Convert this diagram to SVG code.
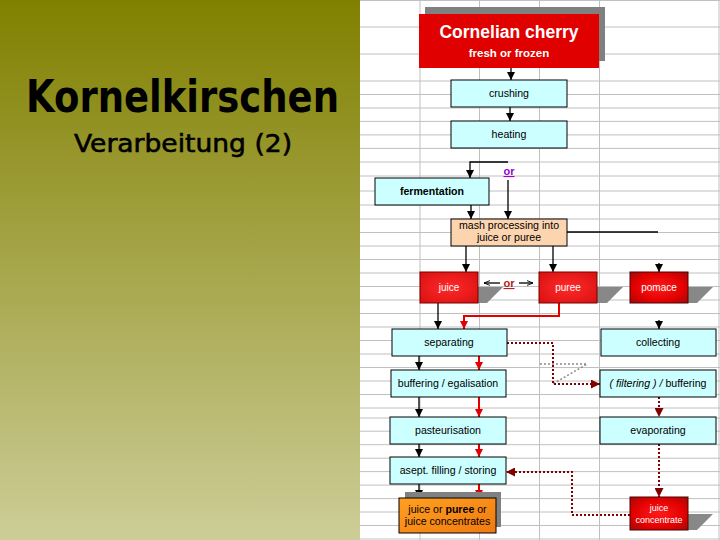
<svg xmlns="http://www.w3.org/2000/svg" width="720" height="540" viewBox="0 0 720 540">
<defs>
<linearGradient id="leftbg" x1="0" y1="0" x2="0" y2="1">
<stop offset="0" stop-color="#808000"/>
<stop offset="1" stop-color="#cdcd98"/>
</linearGradient>
<radialGradient id="redbox" cx="0.5" cy="0.5" r="0.7">
<stop offset="0" stop-color="#ff2a2a"/>
<stop offset="1" stop-color="#d81010"/>
</radialGradient>
<radialGradient id="darkred" cx="0.5" cy="0.5" r="0.75">
<stop offset="0" stop-color="#ff1a1a"/>
<stop offset="0.6" stop-color="#e00000"/>
<stop offset="1" stop-color="#8a1010"/>
</radialGradient>
<linearGradient id="orange" x1="0" y1="0" x2="1" y2="1">
<stop offset="0" stop-color="#ffa020"/>
<stop offset="1" stop-color="#f07a10"/>
</linearGradient>
<marker id="ab" viewBox="0 0 10 10" refX="10" refY="5" markerWidth="8" markerHeight="8" markerUnits="userSpaceOnUse" orient="auto"><path d="M0,0 L10,5 L0,10 z" fill="#000"/></marker>
<marker id="ar" viewBox="0 0 10 10" refX="10" refY="5" markerWidth="8" markerHeight="8" markerUnits="userSpaceOnUse" orient="auto"><path d="M0,0 L10,5 L0,10 z" fill="#e00000"/></marker>
<marker id="ad" viewBox="0 0 10 10" refX="10" refY="5" markerWidth="9" markerHeight="9" markerUnits="userSpaceOnUse" orient="auto"><path d="M0,0 L10,5 L0,10 z" fill="#800000"/></marker>
<marker id="as" viewBox="0 0 10 10" refX="10" refY="5" markerWidth="6" markerHeight="6" markerUnits="userSpaceOnUse" orient="auto"><path d="M0,1 L10,5 L0,9" fill="none" stroke="#000" stroke-width="1.5"/></marker>
<style>
.grid line{stroke:#c0c0c0;stroke-width:1}
.cy{fill:#ccffff;stroke:#000;stroke-width:1}
.lbl{font-family:"Liberation Sans",Arial,sans-serif;font-size:10.6px;fill:#000;text-anchor:middle}
.wl{font-family:"Liberation Sans",Arial,sans-serif;fill:#fff;text-anchor:middle}
.sh{fill:#888}
.c{fill:none;stroke:#000;stroke-width:1.3}
.cr{fill:none;stroke:#e00000;stroke-width:2}
.cd{fill:none;stroke:#800000;stroke-width:2;stroke-dasharray:2 2}
.cg{fill:none;stroke:#8a8a8a;stroke-width:1.5;stroke-dasharray:2 2}
</style>
</defs>

<rect x="0" y="0" width="360" height="540" fill="url(#leftbg)"/>
<rect x="360" y="0" width="360" height="540" fill="#fff"/>

<g class="grid">
<line x1="360" y1="0.5" x2="720" y2="0.5"/>
<line x1="360" y1="27" x2="720" y2="27"/>
<line x1="360" y1="54" x2="720" y2="54"/>
<line x1="360" y1="81" x2="720" y2="81"/>
<line x1="360" y1="94.5" x2="720" y2="94.5"/>
<line x1="360" y1="108" x2="720" y2="108"/>
<line x1="360" y1="121.4" x2="720" y2="121.4"/>
<line x1="360" y1="134.9" x2="720" y2="134.9"/>
<line x1="360" y1="148.4" x2="720" y2="148.4"/>
<line x1="360" y1="162" x2="720" y2="162"/>
<line x1="360" y1="176" x2="720" y2="176"/>
<line x1="360" y1="191" x2="720" y2="191"/>
<line x1="360" y1="205" x2="720" y2="205"/>
<line x1="360" y1="219" x2="720" y2="219"/>
<line x1="360" y1="232.5" x2="720" y2="232.5"/>
<line x1="360" y1="246" x2="720" y2="246"/>
<line x1="360" y1="259.5" x2="720" y2="259.5"/>
<line x1="360" y1="273" x2="720" y2="273"/>
<line x1="360" y1="286.5" x2="720" y2="286.5"/>
<line x1="360" y1="300" x2="720" y2="300"/>
<line x1="360" y1="313.5" x2="720" y2="313.5"/>
<line x1="360" y1="327" x2="720" y2="327"/>
<line x1="360" y1="340.5" x2="720" y2="340.5"/>
<line x1="360" y1="354" x2="720" y2="354"/>
<line x1="360" y1="367.5" x2="720" y2="367.5"/>
<line x1="360" y1="381" x2="720" y2="381"/>
<line x1="360" y1="394.5" x2="720" y2="394.5"/>
<line x1="360" y1="408" x2="720" y2="408"/>
<line x1="360" y1="418" x2="720" y2="418"/>
<line x1="360" y1="431.2" x2="720" y2="431.2"/>
<line x1="360" y1="444.7" x2="720" y2="444.7"/>
<line x1="360" y1="458.2" x2="720" y2="458.2"/>
<line x1="360" y1="471.6" x2="720" y2="471.6"/>
<line x1="360" y1="485.1" x2="720" y2="485.1"/>
<line x1="360" y1="498.6" x2="720" y2="498.6"/>
<line x1="360" y1="512" x2="720" y2="512"/>
<line x1="360" y1="525.5" x2="720" y2="525.5"/>
<line x1="360" y1="539" x2="720" y2="539"/>
<line x1="420" y1="0" x2="420" y2="540"/>
<line x1="479.5" y1="0" x2="479.5" y2="540"/>
<line x1="539.5" y1="0" x2="539.5" y2="540"/>
<line x1="599.5" y1="0" x2="599.5" y2="540"/>
<line x1="719" y1="0" x2="719" y2="540"/>
</g>

<g id="title-left">
<text x="26" y="112" font-family="'DejaVu Sans',sans-serif" font-weight="bold" font-size="44" textLength="313" lengthAdjust="spacingAndGlyphs" fill="#000">Kornelkirschen</text>
<text x="74" y="152" font-family="'DejaVu Sans',sans-serif" font-size="25" textLength="218" lengthAdjust="spacingAndGlyphs" fill="#000" stroke="#000" stroke-width="0.6">Verarbeitung (2)</text>
</g>

<g id="connectors">
<path class="c" d="M511,68 V80" marker-end="url(#ab)"/>
<path class="c" d="M510,107 V121" marker-end="url(#ab)"/>
<path class="c" d="M508,162 H470 V178" marker-end="url(#ab)"/>
<path class="c" d="M508,180 V219" marker-end="url(#ab)"/>
<path class="c" d="M471,205 V219" marker-end="url(#ab)"/>
<path class="c" d="M567,232 H658"/>
<path class="c" d="M466,246 V272" marker-end="url(#ab)"/>
<path class="c" d="M553,246 V272" marker-end="url(#ab)"/>
<path class="c" d="M659,263 V272" marker-end="url(#ab)"/>
<path class="c" d="M500,283 H484" marker-end="url(#as)" stroke-width="1"/>
<path class="c" d="M519,283 H533" marker-end="url(#as)" stroke-width="1"/>
<path class="c" d="M438,303 V329" marker-end="url(#ab)"/>
<path class="cr" d="M559,303 V316 H464 V329" marker-end="url(#ar)"/>
<path class="c" d="M659,320 V329" marker-end="url(#ab)"/>
<path class="c" d="M419,356 V370" marker-end="url(#ab)"/>
<path class="cr" d="M479,356 V370" marker-end="url(#ar)"/>
<path class="c" d="M419,397 V417" marker-end="url(#ab)"/>
<path class="cr" d="M479,397 V417" marker-end="url(#ar)"/>
<path class="c" d="M419,444 V457" marker-end="url(#ab)"/>
<path class="cr" d="M479,444 V457" marker-end="url(#ar)"/>
<path class="c" d="M419,484 V498" marker-end="url(#ab)"/>
<path class="cr" d="M479,484 V498" marker-end="url(#ar)"/>
<path class="cg" d="M540,364 H587 L553,384"/>
<path class="cd" d="M507,343 H553 V384 H600" marker-end="url(#ad)"/>
<path class="cd" d="M659,397 V417" marker-end="url(#ad)"/>
<path class="cd" d="M659,444 V497" marker-end="url(#ad)"/>
<path class="cd" d="M630,515 H572 V472 H506" marker-end="url(#ad)"/>
</g>

<g id="or1">
<text x="509" y="175" font-family="'Liberation Sans',Arial,sans-serif" font-size="11" font-weight="bold" fill="#9900cc" text-anchor="middle" text-decoration="underline">or</text>
</g>
<g id="or2">
<text x="509" y="287" font-family="'Liberation Sans',Arial,sans-serif" font-size="11" font-weight="bold" fill="#b22222" text-anchor="middle" text-decoration="underline">or</text>
</g>

<g id="cornelian">
<rect x="425" y="7" width="180" height="54" fill="#808080"/>
<rect x="419" y="14" width="180" height="54" fill="#e00000"/>
<text class="wl" x="509" y="38" font-size="17.5" font-weight="bold">Cornelian cherry</text>
<text class="wl" x="509" y="57" font-size="11.5" font-weight="bold">fresh or frozen</text>
</g>

<g id="crushing">
<rect class="cy" x="451" y="80" width="116" height="27"/>
<text class="lbl" x="509" y="97">crushing</text>
</g>
<g id="heating">
<rect class="cy" x="451" y="121" width="116" height="27"/>
<text class="lbl" x="509" y="138">heating</text>
</g>
<g id="fermentation">
<rect class="cy" x="375" y="178" width="114" height="27"/>
<text class="lbl" x="432" y="195" font-weight="bold" font-size="10">fermentation</text>
</g>
<g id="mash">
<rect x="451" y="219" width="116" height="27" fill="#fcd5b0" stroke="#000" stroke-width="1"/>
<text class="lbl" x="509" y="229" font-size="8.3">mash processing into</text>
<text class="lbl" x="509" y="241" font-size="8.3">juice or puree</text>
</g>

<g id="juice">
<polygon class="sh" points="478,287 503,287 487,303 478,303"/>
<rect x="420" y="272" width="58" height="31" fill="url(#redbox)" stroke="#700" stroke-width="1"/>
<text class="wl" x="449" y="291" font-size="10">juice</text>
</g>
<g id="puree">
<polygon class="sh" points="597,287 623,287 607,303 597,303"/>
<rect x="539" y="272" width="58" height="31" fill="url(#redbox)" stroke="#700" stroke-width="1"/>
<text class="wl" x="568" y="291" font-size="10">puree</text>
</g>
<g id="pomace">
<polygon class="sh" points="688,287 713,287 697,303 688,303"/>
<rect x="630" y="272" width="58" height="31" fill="url(#darkred)" stroke="#500" stroke-width="1"/>
<text class="wl" x="659" y="291" font-size="10">pomace</text>
</g>

<g id="separating">
<rect class="cy" x="392" y="329" width="115" height="27"/>
<text class="lbl" x="449" y="346">separating</text>
</g>
<g id="buffering">
<rect class="cy" x="391" y="370" width="115" height="27"/>
<text class="lbl" x="448" y="387">buffering / egalisation</text>
</g>
<g id="pasteurisation">
<rect class="cy" x="390" y="417" width="116" height="27"/>
<text class="lbl" x="448" y="434">pasteurisation</text>
</g>
<g id="asept">
<rect class="cy" x="390" y="457" width="116" height="27"/>
<text class="lbl" x="448" y="474">asept. filling / storing</text>
</g>
<g id="final">
<rect x="405" y="492" width="96" height="35" fill="#808080"/>
<rect x="399" y="498" width="97" height="35" fill="url(#orange)" stroke="#000" stroke-width="1"/>
<text class="lbl" x="447.5" y="513" font-size="9.8">juice or <tspan font-weight="bold">puree</tspan>  or</text>
<text class="lbl" x="447.5" y="525" font-size="9.8">juice concentrates</text>
</g>

<g id="collecting">
<rect class="cy" x="601" y="329" width="115" height="27"/>
<text class="lbl" x="658" y="346">collecting</text>
</g>
<g id="filtering">
<rect class="cy" x="600" y="370" width="116" height="27"/>
<text class="lbl" x="658" y="387"><tspan font-style="italic">( filtering ) /</tspan> buffering</text>
</g>
<g id="evaporating">
<rect class="cy" x="600" y="417" width="116" height="27"/>
<text class="lbl" x="658" y="434">evaporating</text>
</g>
<g id="concentrate">
<polygon class="sh" points="688,514 713,514 697,530 688,530"/>
<rect x="630" y="497" width="58" height="33" fill="url(#darkred)" stroke="#500" stroke-width="1"/>
<text class="wl" x="659" y="511" font-size="9">juice</text>
<text class="wl" x="659" y="523" font-size="9">concentrate</text>
</g>
</svg>
